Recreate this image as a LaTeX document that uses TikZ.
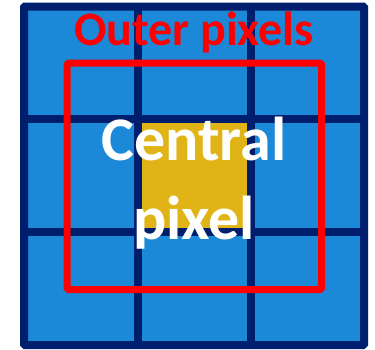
\documentclass[tikz,border=0pt]{standalone}
\usepackage{fontspec}
\setmainfont{Carlito}
\definecolor{pixblue}{RGB}{27, 137, 216}
\definecolor{gridnavy}{RGB}{0, 30, 110}
\definecolor{pixgold}{RGB}{224, 180, 22}
\definecolor{outerred}{RGB}{255, 0, 0}

\begin{document}
\begin{tikzpicture}[x=1pt, y=-1pt]
                    \useasboundingbox (0,0) rectangle (375,349);
                    % pixels
                    \fill[pixblue] (24,6.5) rectangle (364,345);
                    \fill[pixgold] (137.5,119) rectangle (250.5,232);
                    % grid
                    \draw[gridnavy, line width=8pt] (137.5,6.5) -- (137.5,345);
                    \draw[gridnavy, line width=8pt] (250.5,6.5) -- (250.5,345);
                    \draw[gridnavy, line width=8pt] (24,119) -- (364,119);
                    \draw[gridnavy, line width=8pt] (24,232) -- (364,232);
                    \draw[gridnavy, line width=8pt, rounded corners=1pt] (24,6.5) rectangle (364,345);
                    % outer window
                    \draw[outerred, line width=7pt, rounded corners=1.5pt] (67,63) rectangle (321.5,289.5);
                    
                    \node[text=outerred, font=\fontsize{48}{52}\selectfont\bfseries, anchor=base, inner sep=0pt] (outer) at (194,45) {Outer pixels};
                    \node[text=white, font=\fontsize{62}{79}\selectfont\bfseries, align=center, anchor=center, inner sep=0pt] (central) at (194,183) {Central\\pixel};
                \end{tikzpicture}
\end{document}
